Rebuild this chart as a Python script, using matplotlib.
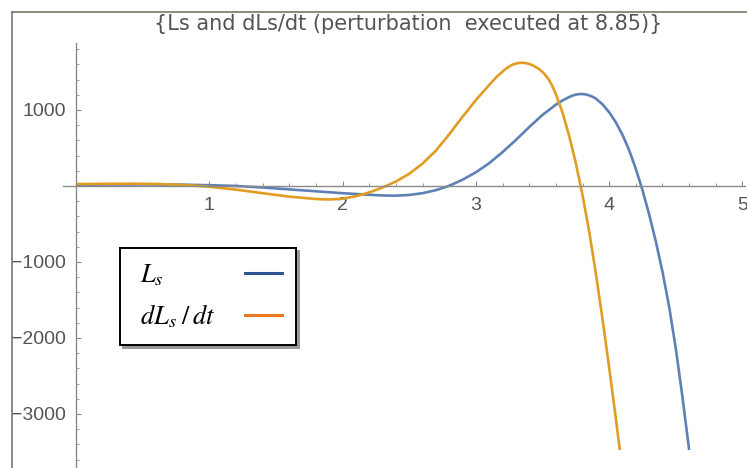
import matplotlib.pyplot as plt
from matplotlib.lines import Line2D

# Ls(t) and dLs/dt, sampled off the solution curves
t_ls = [0.0, 0.2, 0.4, 0.6, 0.8, 1.0, 1.2, 1.4, 1.6, 1.8, 2.0, 2.2, 2.3, 2.4,
        2.5, 2.6, 2.7, 2.8, 2.9, 3.0, 3.1, 3.2, 3.3, 3.4, 3.5, 3.6, 3.65, 3.7,
        3.725, 3.75, 3.775, 3.8, 3.825, 3.85, 3.875, 3.9, 3.95, 4.0, 4.05, 4.1,
        4.15, 4.2, 4.25, 4.3, 4.35, 4.4, 4.45, 4.5, 4.55, 4.6]
ls = [15, 18, 20, 20, 17, 10, 0, -20, -45, -70, -95, -116, -125, -128,
      -118, -95, -55, 2, 82, 180, 300, 445, 605, 775, 935, 1070, 1125, 1170,
      1189, 1202, 1209, 1210, 1204, 1192, 1174, 1150, 1075, 970, 838, 673,
      470, 225, -55, -375, -730, -1130, -1590, -2140, -2780, -3474]

t_dls = [0.0, 0.2, 0.4, 0.6, 0.8, 1.0, 1.2, 1.4, 1.6, 1.8, 1.9, 2.0, 2.1, 2.2,
         2.3, 2.4, 2.5, 2.6, 2.7, 2.8, 2.9, 3.0, 3.1, 3.15, 3.2, 3.225, 3.25,
         3.275, 3.3, 3.325, 3.35, 3.375, 3.4, 3.425, 3.45, 3.475, 3.5, 3.525,
         3.55, 3.575, 3.6, 3.65, 3.7, 3.75, 3.8, 3.85, 3.9, 3.95, 4.0, 4.05, 4.08]
dls = [25, 28, 30, 27, 14, -10, -48, -95, -140, -172, -178, -168, -135, -85,
       -20, 58, 160, 295, 465, 680, 910, 1130, 1330, 1425, 1505, 1542, 1573,
       1596, 1611, 1619, 1621, 1616, 1606, 1589, 1565, 1536, 1500, 1452,
       1390, 1310, 1210, 965, 660, 300, -120, -600, -1150, -1750, -2390, -3060, -3474]

x_major = [1, 2, 3, 4, 5]
x_minor = [i / 5 for i in range(1, 26) if i % 5]
y_major = [-3000, -2000, -1000, 1000]
y_minor = [v for v in range(-3600, 1801, 200) if v % 1000]

title = '{Ls and dLs/dt (perturbation  executed at 8.85)}'
labels = [r'$\;L_s$', r'$\;dL_{s}\;/\,dt$']

plt.rcParams['font.family'] = ['Liberation Sans', 'DejaVu Sans']
plt.rcParams['mathtext.fontset'] = 'stix'

fig = plt.figure(figsize=(7.47, 4.68), dpi=100)
ax = fig.add_axes([0, 0, 1, 1])
ax.patch.set_alpha(0)

ax.plot(t_ls, ls, color='#5E81B5', lw=1.9, solid_capstyle='butt')
ax.plot(t_dls, dls, color='#E19C24', lw=1.9, solid_capstyle='butt')

ax.set_xlim(-0.570, 5.034)
ax.set_ylim(-3711, 2447)

# axes crossing at the origin
for side in ['top', 'right']:
    ax.spines[side].set_visible(False)
ax.spines['left'].set_position(('data', 0))
ax.spines['bottom'].set_position(('data', 0))
ax.spines['left'].set_bounds(-3711, 1886)
ax.spines['bottom'].set_bounds(-0.1, 5.02)
for side in ['left', 'bottom']:
    ax.spines[side].set_color('#8a8a8a')
    ax.spines[side].set_linewidth(1.0)

ax.set_xticks(x_major)
ax.set_xticks(x_minor, minor=True)
ax.set_yticks(y_major)
ax.set_yticks(y_minor, minor=True)
ax.tick_params(which='both', direction='in', color='#8a8a8a', labelcolor='#555555',
               labelsize=14)
ax.tick_params(which='major', length=3.5, width=0.8)
ax.tick_params(which='minor', length=2, width=0.6)
ax.tick_params(axis='x', pad=8)
ax.tick_params(axis='y', pad=7)

fig.text(0.547, 1 - 30 / 468, title, ha='center', va='baseline',
         fontsize=15, color='#555555', family='DejaVu Sans')

handles = [Line2D([], [], color='#2E5694', lw=2.2),
           Line2D([], [], color='#EA7A22', lw=2.2)]
leg = ax.legend(handles, labels, loc='upper left',
                bbox_to_anchor=(120 / 747, 1 - 248 / 468), bbox_transform=fig.transFigure,
                markerfirst=False, frameon=True, fancybox=False,
                shadow={'color': '0.6', 'alpha': 1},
                edgecolor='black', framealpha=1, prop={'size': 19}, handlelength=1.4,
                handletextpad=0.75, labelspacing=0.55, borderpad=0.55, borderaxespad=0)
leg.get_frame().set_linewidth(1.4)

# labels flush left, sample lines flush right
fig.canvas.draw()
renderer = fig.canvas.get_renderer()
column = leg._legend_handle_box.get_children()[0]
rows = column.get_children()
row_width = max(row.get_bbox(renderer).width for row in rows) + 10
column.align = 'left'
column.width = row_width
for row in rows:
    row.mode = 'expand'

# window border along the top and left edges
fig.add_artist(Line2D([11.5 / 747, 11.5 / 747], [0, 1 - 12 / 468], color='#77776b', lw=1.2))
fig.add_artist(Line2D([11.5 / 747, 1], [1 - 12 / 468, 1 - 12 / 468], color='#77776b', lw=1.2))

fig.savefig('out.png', dpi=100)
